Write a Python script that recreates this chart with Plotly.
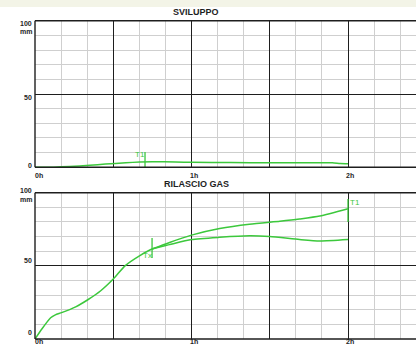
import plotly.graph_objects as go

# --- data -------------------------------------------------------------
# SVILUPPO (top panel): time in hours, level in mm
svil_h = [0.0, 0.12, 0.22, 0.35, 0.45, 0.58, 0.67, 0.75, 0.9, 1.0, 1.25, 1.5, 1.75, 1.9, 1.95, 2.0]
svil_mm = [0.0, 0.1, 0.5, 1.4, 2.2, 3.1, 3.6, 3.8, 3.6, 3.4, 3.2, 3.1, 3.1, 3.1, 2.6, 2.4]

# RILASCIO GAS (bottom panel): shared rising part up to Tx
gas_h = [0.0, 0.045, 0.10, 0.13, 0.17, 0.26, 0.34, 0.42, 0.50, 0.575, 0.67, 0.748]
gas_mm = [0.0, 7.0, 14.5, 16.5, 18.0, 22.0, 27.0, 33.0, 41.0, 50.0, 57.0, 61.5]

# branch that levels off after Tx
low_h = [0.748, 0.86, 1.0, 1.18, 1.37, 1.5, 1.69, 1.82, 2.0]
low_mm = [61.5, 64.5, 68.0, 69.5, 70.5, 70.0, 68.0, 67.0, 68.0]

# branch that keeps rising after Tx up to T1
high_h = [0.748, 0.86, 1.0, 1.18, 1.37, 1.565, 1.69, 1.82, 2.0]
high_mm = [61.5, 66.0, 71.0, 75.5, 78.5, 80.5, 82.0, 84.0, 89.0]

# marker positions (hours) and vertical extents (mm)
top_t1 = (0.703, -3.2, 10.4)
bot_tx = (0.748, 55.4, 69.0)
bot_t1 = (2.0, 80.0, 95.7)

hour_ticks = [0, 1, 2]
hour_labels = ["0h", "1h", "2h"]

# --- styling ----------------------------------------------------------
W, H = 416, 347
GREEN = "#3cc83c"
INK = "#1e1e1e"
MINOR = "#cfcfcf"
FONT = "Liberation Sans, Arial, sans-serif"

X_LEFT_PX = 35.0
PX_PER_H = 156.5
x_dom = [X_LEFT_PX / W, 1.0]
x_rng = [0, (W - X_LEFT_PX) / PX_PER_H]


def py(px):
    """pixel row -> paper y"""
    return (H - px) / H


top_dom = [py(167.3), py(20.7)]
bot_dom = [py(339.0), py(192.7)]

fig = go.Figure()

line_kw = dict(mode="lines", line=dict(color=GREEN, width=1.5, shape="spline", smoothing=0.6),
               hoverinfo="skip", showlegend=False)

fig.add_trace(go.Scatter(x=svil_h, y=svil_mm, xaxis="x", yaxis="y", **line_kw))
fig.add_trace(go.Scatter(x=gas_h + low_h[1:], y=gas_mm + low_mm[1:], xaxis="x2", yaxis="y2", **line_kw))
fig.add_trace(go.Scatter(x=high_h, y=high_mm, xaxis="x2", yaxis="y2", **line_kw))

# vertical marker ticks
for (hx, y0, y1), xa, ya in [(top_t1, "x", "y"), (bot_tx, "x2", "y2"), (bot_t1, "x2", "y2")]:
    fig.add_trace(go.Scatter(x=[hx, hx], y=[y0, y1], xaxis=xa, yaxis=ya, mode="lines",
                             line=dict(color=GREEN, width=1.3), cliponaxis=False,
                             hoverinfo="skip", showlegend=False))

ax_common = dict(showticklabels=False, ticks="", fixedrange=True, zeroline=False,
                 showline=False)
xa = dict(ax_common, domain=x_dom, range=x_rng, tick0=0, dtick=0.5,
          showgrid=True, gridcolor=INK, gridwidth=1.2,
          minor=dict(tick0=0, dtick=1 / 6, showgrid=True, gridcolor=MINOR, gridwidth=1))
ya = dict(ax_common, range=[0, 100], tick0=0, dtick=50,
          showgrid=True, gridcolor=INK, gridwidth=1.2,
          minor=dict(tick0=0, dtick=10, showgrid=True, gridcolor=MINOR, gridwidth=1))

fig.update_layout(
    width=W, height=H, margin=dict(l=0, r=0, t=0, b=0),
    paper_bgcolor="white", plot_bgcolor="white",
    xaxis=dict(xa, anchor="y"), yaxis=dict(ya, domain=top_dom, anchor="x"),
    xaxis2=dict(xa, anchor="y2"), yaxis2=dict(ya, domain=bot_dom, anchor="x2"),
    font=dict(family=FONT, color=INK, size=8),
)

# frame lines (left, top, bottom) for each panel
shapes = [dict(type="rect", xref="paper", yref="paper", x0=0, x1=1, y0=py(7), y1=1,
               fillcolor="#f3f4e7", line=dict(width=0), layer="below")]
for dom in (top_dom, bot_dom):
    for yv in dom:
        shapes.append(dict(type="line", xref="paper", yref="paper", x0=x_dom[0], x1=1,
                           y0=yv, y1=yv, line=dict(color=INK, width=1.4)))
    shapes.append(dict(type="line", xref="paper", yref="paper", x0=x_dom[0], x1=x_dom[0],
                       y0=dom[0], y1=dom[1], line=dict(color=INK, width=1.4)))
fig.update_layout(shapes=shapes)

ann = []
# titles
ann.append(dict(text="<b>SVILUPPO</b>", x=1.03, xref="x", y=py(19.5), yref="paper",
                yanchor="bottom", showarrow=False, font=dict(size=9)))
ann.append(dict(text="<b>RILASCIO GAS</b>", x=1.03, xref="x2", y=py(190.5), yref="paper",
                yanchor="bottom", showarrow=False, font=dict(size=9)))

# y labels
x_lab = 32.5 / W
for base_px, dom in ((167.3, top_dom), (339.0, bot_dom)):
    span = 146.5
    for val, txt, dy in ((100, "100", -2.0), (50, "50", -1), (0, "0", -2)):
        ypx = base_px - span * val / 100 + dy
        ann.append(dict(text="<b>" + txt + "</b>", x=x_lab, xref="paper", xanchor="right",
                        y=py(ypx), yref="paper", showarrow=False, font=dict(size=7),
                        borderpad=0))
    ann.append(dict(text="<b>mm</b>", x=x_lab, xref="paper", xanchor="right",
                    y=py(base_px - span + 6.5), yref="paper", showarrow=False,
                    font=dict(size=7), borderpad=0))

# hour labels
for xa_name, ypx in (("x", 175.5), ("x2", 346.0)):
    for hv, lab in zip(hour_ticks, hour_labels):
        ann.append(dict(text="<b>" + lab + "</b>", x=hv, xref=xa_name,
                        xanchor="left" if hv == 0 else "center",
                        xshift=-1 if hv == 0 else 2, y=py(ypx), yref="paper",
                        showarrow=False, font=dict(size=7), borderpad=0))

# marker labels
ann.append(dict(text="T1", x=0.67, xref="x", y=8.4, yref="y", showarrow=False,
                font=dict(size=8, color=GREEN)))
ann.append(dict(text="Tx", x=0.719, xref="x2", y=57.0, yref="y2", showarrow=False,
                font=dict(size=8, color=GREEN)))
ann.append(dict(text="T1", x=2.045, xref="x2", y=93.2, yref="y2", showarrow=False,
                font=dict(size=8, color=GREEN)))
fig.update_layout(annotations=ann)

fig.write_html("out.html")
